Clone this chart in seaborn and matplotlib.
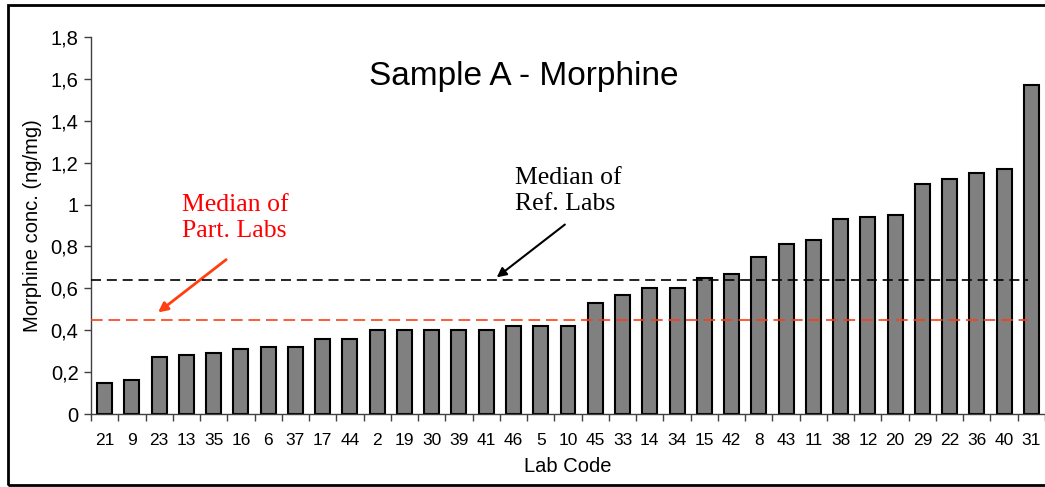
import matplotlib
matplotlib.use('Agg')
import matplotlib.pyplot as plt
import numpy as np
import pandas as pd
import seaborn as sns

# data
lab_codes = ['21', '9', '23', '13', '35', '16', '6', '37', '17', '44', '2', '19',
             '30', '39', '41', '46', '5', '10', '45', '33', '14', '34', '15', '42',
             '8', '43', '11', '38', '12', '20', '29', '22', '36', '40', '31']
morphine = [0.15, 0.16, 0.27, 0.28, 0.29, 0.31, 0.32, 0.32, 0.36, 0.36, 0.40, 0.40,
            0.40, 0.40, 0.40, 0.42, 0.42, 0.42, 0.53, 0.57, 0.60, 0.60, 0.65, 0.67,
            0.75, 0.81, 0.83, 0.93, 0.94, 0.95, 1.10, 1.12, 1.15, 1.17, 1.57]
median_ref = 0.64
median_part = 0.45
y_ticks = [0, 0.2, 0.4, 0.6, 0.8, 1.0, 1.2, 1.4, 1.6, 1.8]
y_tick_labels = ['0', '0,2', '0,4', '0,6', '0,8', '1', '1,2', '1,4', '1,6', '1,8']

df = pd.DataFrame({'lab': lab_codes, 'conc': morphine})

sns.set_style('ticks')
plt.rcParams['font.family'] = ['Liberation Sans', 'DejaVu Sans']
plt.rcParams['text.color'] = 'black'
plt.rcParams['axes.labelcolor'] = 'black'
plt.rcParams['xtick.color'] = 'black'
plt.rcParams['ytick.color'] = 'black'

fig = plt.figure(figsize=(10.45, 4.87), dpi=100)
ax = fig.add_axes([91 / 1045, 1 - 414 / 487, 954 / 1045, 377 / 487])

sns.barplot(data=df, x='lab', y='conc', order=lab_codes, color='#808080',
            saturation=1, edgecolor='black', linewidth=1.5, width=0.55, ax=ax)

# median lines
ax.axhline(median_ref, xmin=0, xmax=0.982, color='black', lw=1.2, ls=(0, (6, 3.5)), zorder=5)
ax.axhline(median_part, xmin=0, xmax=0.982, color='#FF3F10', lw=1.2, ls=(0, (7, 3.5)), zorder=5)

ax.set_xlim(-0.5, len(lab_codes) - 0.5)
ax.set_ylim(0, 1.8)
ax.set_yticks(y_ticks)
ax.set_yticklabels(y_tick_labels, fontsize=14.5)
ax.set_xticks(np.arange(-0.5, len(lab_codes), 1), minor=True)
ax.tick_params(axis='x', which='major', length=0, labelsize=12.5, pad=14)
ax.tick_params(axis='x', which='minor', length=5, width=1, color='#404040')
ax.tick_params(axis='y', length=5, width=1, color='#404040', pad=4)

ax.set_xlabel('Lab Code', fontsize=14.5, labelpad=6)
ax.set_ylabel('Morphine conc. (ng/mg)', fontsize=14.5, labelpad=6)

sns.despine(ax=ax)
for side in ('left', 'bottom'):
    ax.spines[side].set_color('#404040')
    ax.spines[side].set_linewidth(1)

ax.text(0.454, 0.894, 'Sample A - Morphine', transform=ax.transAxes,
        ha='center', va='center', fontsize=24)

# annotations
serif = ['Liberation Serif', 'DejaVu Serif']
ax.annotate('Median of\nPart. Labs', xy=(0.068, 0.265), xytext=(0.095, 0.584),
            xycoords='axes fraction', textcoords='axes fraction',
            ha='left', va='top', color='red', fontsize=18.5, linespacing=1.25,
            family=serif)
ax.annotate('', xy=(0.068, 0.265), xytext=(0.144, 0.414),
            xycoords='axes fraction', textcoords='axes fraction',
            arrowprops=dict(arrowstyle='-|>', color='#FF3F10', lw=2, mutation_scale=14))
ax.annotate('Median of\nRef. Labs', xy=(0.423, 0.358), xytext=(0.444, 0.655),
            xycoords='axes fraction', textcoords='axes fraction',
            ha='left', va='top', color='black', fontsize=18.5, linespacing=1.25,
            family=serif)
ax.annotate('', xy=(0.423, 0.358), xytext=(0.499, 0.507),
            xycoords='axes fraction', textcoords='axes fraction',
            arrowprops=dict(arrowstyle='-|>', color='black', lw=1.5, mutation_scale=14))

# chart area frame
fig.add_artist(plt.Rectangle((8 / 1045, 2 / 487), 1.1, 480 / 487, fill=False,
                             lw=2, edgecolor='black', transform=fig.transFigure))

fig.savefig('out.png', dpi=100)
